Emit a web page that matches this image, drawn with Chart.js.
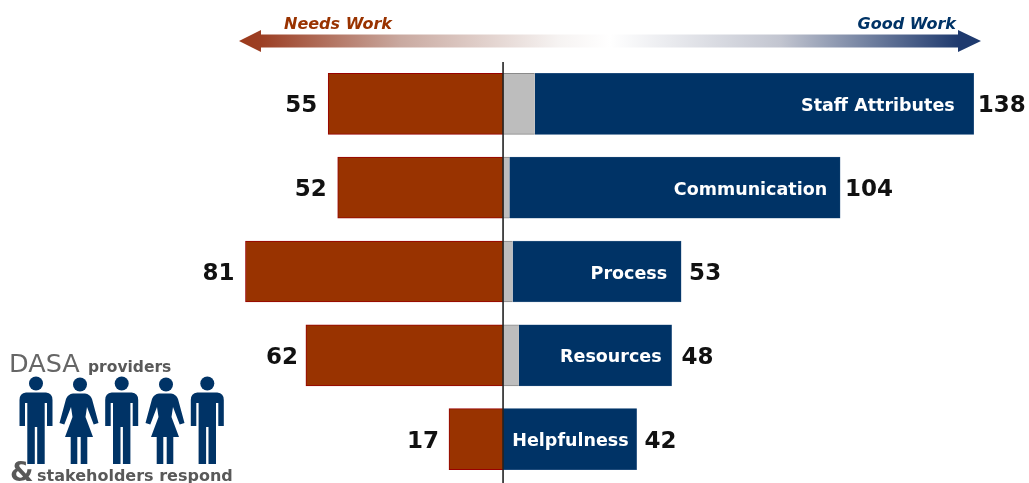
<!DOCTYPE html>
<html>
<head>
<meta charset="utf-8">
<script src="https://cdn.jsdelivr.net/npm/chart.js@4"></script>
<style>html,body{margin:0;padding:0;background:#fff;overflow:hidden}canvas{display:block}</style>
</head>
<body>
<canvas id="c" width="1029" height="483"></canvas>
<script>
const categories = ["Staff Attributes","Communication","Process","Resources","Helpfulness"];
const needsWork = [55,52,81,62,17];
const neutral = [10,2,3,5,0];
const goodWork = [138,104,53,48,42];
const negGaps = [11,11,11,8,10];
const posGaps = [4,5,8,10,8];
const catGaps = [19,13,14,10,8];

const RED="#993300", NAVY="#003366";
const BOLD='"DejaVu Sans"';

function text(ctx,s,x,y,font,color,align){
  ctx.font=font;ctx.fillStyle=color;ctx.textAlign=align||"left";ctx.textBaseline="alphabetic";
  ctx.fillText(s,x,y);
}
function poly(ctx,pts){ctx.beginPath();pts.forEach((p,i)=>i?ctx.lineTo(p[0],p[1]):ctx.moveTo(p[0],p[1]));ctx.closePath();ctx.fill();}
function man(ctx,cx){
  ctx.fillStyle=NAVY;
  ctx.beginPath();ctx.arc(cx,383.5,7,0,Math.PI*2);ctx.fill();
  ctx.beginPath();
  ctx.moveTo(cx-10,392.5);ctx.lineTo(cx+10,392.5);ctx.quadraticCurveTo(cx+16.5,393,cx+16.5,400);
  ctx.lineTo(cx+16.5,426);ctx.lineTo(cx+11,426);ctx.lineTo(cx+11,403);ctx.lineTo(cx+8.7,403);
  ctx.lineTo(cx+8.7,464);ctx.lineTo(cx+1.2,464);ctx.lineTo(cx+1.2,427);ctx.lineTo(cx-1.2,427);ctx.lineTo(cx-1.2,464);
  ctx.lineTo(cx-8.7,464);ctx.lineTo(cx-8.7,403);ctx.lineTo(cx-11,403);ctx.lineTo(cx-11,426);ctx.lineTo(cx-16.5,426);
  ctx.lineTo(cx-16.5,400);ctx.quadraticCurveTo(cx-16.5,393,cx-10,392.5);
  ctx.closePath();ctx.fill();
}
function woman(ctx,cx){
  ctx.fillStyle=NAVY;
  ctx.beginPath();ctx.arc(cx+1,384.5,7,0,Math.PI*2);ctx.fill();
  ctx.beginPath();
  ctx.moveTo(cx-6,393.5);ctx.lineTo(cx+6,393.5);ctx.quadraticCurveTo(cx+11,394,cx+13,399);
  ctx.lineTo(cx+19.5,423);ctx.lineTo(cx+14.7,424.5);ctx.lineTo(cx+8,407);
  ctx.lineTo(cx+6.5,417);ctx.lineTo(cx+14,437);ctx.lineTo(cx+8.3,437);ctx.lineTo(cx+8.3,464);ctx.lineTo(cx+1.7,464);ctx.lineTo(cx+1.7,437);
  ctx.lineTo(cx-1.7,437);ctx.lineTo(cx-1.7,464);ctx.lineTo(cx-8.3,464);ctx.lineTo(cx-8.3,437);ctx.lineTo(cx-14,437);
  ctx.lineTo(cx-6.5,417);ctx.lineTo(cx-8,407);ctx.lineTo(cx-14.7,424.5);ctx.lineTo(cx-19.5,423);ctx.lineTo(cx-13,399);
  ctx.quadraticCurveTo(cx-11,394,cx-6,393.5);
  ctx.closePath();ctx.fill();
}

const overlay={
  id:"overlay",
  afterDatasetsDraw(chart){
    const ctx=chart.ctx, x0=chart.scales.x.getPixelForValue(0);
    ctx.save();
    ctx.strokeStyle="#222";ctx.lineWidth=1.6;ctx.beginPath();ctx.moveTo(x0,62);ctx.lineTo(x0,483);ctx.stroke();
    const redBars=chart.getDatasetMeta(0).data, blueBars=chart.getDatasetMeta(2).data;
    categories.forEach((c,i)=>{
      const y=blueBars[i].y;
      text(ctx,String(needsWork[i]),redBars[i].x-negGaps[i],y+8.5,"bold 23px "+BOLD,"#111","right");
      text(ctx,String(goodWork[i]),blueBars[i].x+posGaps[i],y+8.5,"bold 23px "+BOLD,"#111","left");
      text(ctx,c,blueBars[i].x-catGaps[i],y+7,"bold 17.5px "+BOLD,"#fff","right");
    });
    const g=ctx.createLinearGradient(239,0,981,0);
    g.addColorStop(0,"#9c3a1c");g.addColorStop(0.03,"#9c3f24");g.addColorStop(0.217,"#c9a9a0");
    g.addColorStop(0.43,"#f6f3f2");g.addColorStop(0.5,"#ffffff");g.addColorStop(0.73,"#c2c5d0");g.addColorStop(0.97,"#1f3a6e");g.addColorStop(1,"#1f3a6e");
    ctx.fillStyle=g;
    poly(ctx,[[239,41],[261,30],[261,34.5],[958,34.5],[958,30],[981,41],[958,52],[958,47.5],[261,47.5],[261,52]]);
    text(ctx,"Needs Work",284,29,"italic bold 16px "+BOLD,RED,"left");
    text(ctx,"Good Work",956,29,"italic bold 16px "+BOLD,NAVY,"right");
    text(ctx,"DASA",9,372,'25.5px "DejaVu Sans"',"#666","left");
    text(ctx,"providers",88,372,"bold 15.5px "+BOLD,"#595959","left");
    man(ctx,36);woman(ctx,79);man(ctx,121.7);woman(ctx,165);man(ctx,207.3);
    text(ctx,"&",10,481,"bold 27px "+BOLD,"#595959","left");
    text(ctx,"stakeholders respond",37,481,"bold 16px "+BOLD,"#595959","left");
    ctx.restore();
  }
};

new Chart(document.getElementById("c"),{
  type:"bar",
  data:{labels:categories,datasets:[
    {label:"Needs Work",data:needsWork.map(v=>-v),backgroundColor:RED,borderColor:"#990000",borderWidth:1,barThickness:61,stack:"s"},
    {label:"Neutral",data:neutral,backgroundColor:"#bdbdbd",borderColor:"#8a8a8a",borderWidth:{top:1,bottom:1},barThickness:61,stack:"s"},
    {label:"Good Work",data:goodWork,backgroundColor:NAVY,borderColor:"#3d6590",borderWidth:0.5,barThickness:61,stack:"s"}
  ]},
  options:{
    indexAxis:"y",responsive:false,animation:false,devicePixelRatio:1,
    layout:{padding:{top:62,bottom:2,left:0,right:0}},
    plugins:{legend:{display:false},tooltip:{enabled:false},title:{display:false}},
    scales:{
      x:{type:"linear",min:-158.2,max:165.4,stacked:true,display:false,grid:{display:false}},
      y:{type:"category",stacked:true,display:false,grid:{display:false}}
    }
  },
  plugins:[overlay]
});
</script>
</body>
</html>
